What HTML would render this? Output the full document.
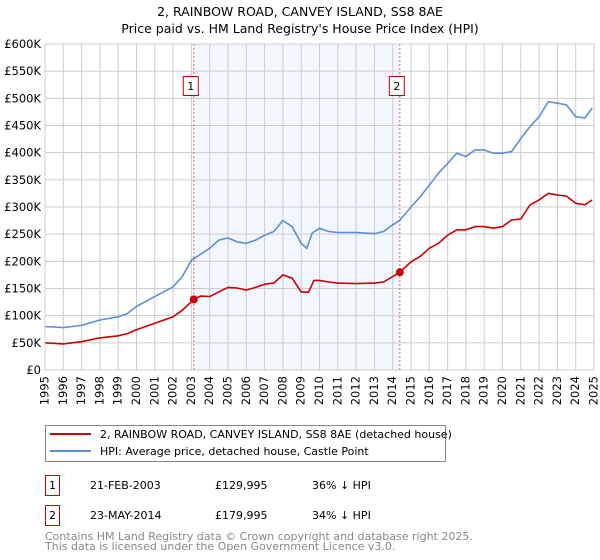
<!DOCTYPE html>
<html><head><meta charset="utf-8">
<style>
body{margin:0;background:#fff;width:600px;height:560px;overflow:hidden;font-family:"DejaVu Sans","Liberation Sans",sans-serif;position:relative;}
svg text{font-family:"DejaVu Sans","Liberation Sans",sans-serif;}
.xl{position:absolute;height:36px;width:13px;line-height:13px;font-size:11.5px;writing-mode:vertical-rl;writing-mode:sideways-lr;text-align:end;white-space:nowrap;color:#000;}
</style></head>
<body>
<svg id="chart" width="600" height="560" xmlns="http://www.w3.org/2000/svg" style="position:absolute;left:0;top:0">
<text x="300" y="16" text-anchor="middle" font-size="12.5" fill="#000">2, RAINBOW ROAD, CANVEY ISLAND, SS8 8AE</text>
<text x="300" y="33" text-anchor="middle" font-size="12.5" fill="#000">Price paid vs. HM Land Registry's House Price Index (HPI)</text>
<g id="plot"></g>
<g>
<rect x="45.5" y="425.5" width="400" height="36" fill="#fff" stroke="#888"/>
<line x1="50" y1="434" x2="91" y2="434" stroke="#cc0000" stroke-width="2"/>
<text x="100" y="438" font-size="11">2, RAINBOW ROAD, CANVEY ISLAND, SS8 8AE (detached house)</text>
<line x1="50" y1="451" x2="91" y2="451" stroke="#5b8fd4" stroke-width="2"/>
<text x="100" y="455" font-size="11">HPI: Average price, detached house, Castle Point</text>
</g>
<g>
<rect x="45.5" y="475.5" width="14" height="20" fill="#fff" stroke="#cc0000"/>
<text x="52.5" y="489" text-anchor="middle" font-size="11">1</text>
<text x="90" y="489" font-size="11">21-FEB-2003</text>
<text x="215" y="489" font-size="11">£129,995</text>
<text x="312" y="489" font-size="11">36% ↓ HPI</text>
<rect x="45.5" y="505.5" width="14" height="20" fill="#fff" stroke="#cc0000"/>
<text x="52.5" y="519" text-anchor="middle" font-size="11">2</text>
<text x="90" y="519" font-size="11">23-MAY-2014</text>
<text x="215" y="519" font-size="11">£179,995</text>
<text x="312" y="519" font-size="11">34% ↓ HPI</text>
</g>
<text x="45" y="540" font-size="11" fill="#888">Contains HM Land Registry data © Crown copyright and database right 2025.</text>
<text x="45" y="550" font-size="11" fill="#888">This data is licensed under the Open Government Licence v3.0.</text>
</svg>
<div id="xlabels"></div>
<script>
const hpiYears=[1995,1996,1997,1998,1999,1999.5,2000,2001,2002,2002.5,2003,2003.5,2004,2004.5,2005,2005.5,2006,2006.5,2007,2007.5,2008,2008.5,2009,2009.3,2009.6,2010,2010.5,2011,2012,2013,2013.5,2014,2014.4,2015,2015.5,2016,2016.5,2017,2017.5,2018,2018.5,2019,2019.5,2020,2020.5,2021,2021.5,2022,2022.5,2023,2023.5,2024,2024.5,2024.9];
const hpiValues=[80,78,82,92,98,104,117,135,153,172,202,213,224,239,243,236,233,239,248,255,275,264,233,224,252,261,255,253,253,251,255,267,276,300,319,340,362,380,399,393,405,405,399,399,402,426,448,466,494,491,488,466,464,482];
const priceYears=[1995,1996,1997,1998,1999,1999.5,2000,2001,2002,2002.5,2003.13,2003.5,2004,2004.5,2005,2005.5,2006,2006.5,2007,2007.5,2008,2008.5,2009,2009.4,2009.7,2010,2010.5,2011,2012,2013,2013.5,2014.39,2015,2015.5,2016,2016.5,2017,2017.5,2018,2018.5,2019,2019.5,2020,2020.5,2021,2021.5,2022,2022.5,2023,2023.5,2024,2024.5,2024.9];
const priceValues=[50,48,52,59,63,67,74,86,98,110,130,136,135,144,152,151,147,152,158,160,175,169,144,143,165,165,162,160,159,160,162,180,199,209,224,233,248,258,258,264,264,261,264,276,278,304,313,325,322,320,307,304,313];
const saleYears=[2003.13,2014.39];
const saleValues=[129.995,179.995];
const saleLabels=["1","2"];
const yTicks=[0,50,100,150,200,250,300,350,400,450,500,550,600];
const yTickLabels=["£0","£50K","£100K","£150K","£200K","£250K","£300K","£350K","£400K","£450K","£500K","£550K","£600K"];
const xTicks=[1995,1996,1997,1998,1999,2000,2001,2002,2003,2004,2005,2006,2007,2008,2009,2010,2011,2012,2013,2014,2015,2016,2017,2018,2019,2020,2021,2022,2023,2024,2025];

const X0=45,X1=594,Y0=370,Y1=44;
const xs=y=>X0+(y-1995)/(2025-1995)*(X1-X0);
const ys=v=>Y0-v/600*(Y0-Y1);
const NS="http://www.w3.org/2000/svg";
const g=document.getElementById('plot');
const xl=document.getElementById('xlabels');
function mk(t,a){const e=document.createElementNS(NS,t);for(const k in a)e.setAttribute(k,a[k]);g.appendChild(e);return e;}

const shade=mk('rect',{x:xs(saleYears[0]),y:Y1,width:xs(saleYears[1])-xs(saleYears[0]),height:Y0-Y1,fill:'#f2f6fe'});


yTicks.forEach((v,i)=>{
  const l=mk('line',{x1:X0,x2:X1,y1:ys(v),y2:ys(v),stroke:'#ccc','stroke-width':1});
  
  
  const t=mk('text',{x:X0-4,y:ys(v)+4,'text-anchor':'end','font-size':'11.5',fill:'#000'});
  t.textContent=yTickLabels[i];
  
  
});
xTicks.forEach(yr=>{
  const l=mk('line',{x1:xs(yr),x2:xs(yr),y1:Y1,y2:Y0,stroke:'#ccc','stroke-width':1});
  
  
  const d=document.createElement('div');
  d.className='xl';
  d.style.left=(xs(yr)-6.5)+'px';
  d.style.top='376px';
  d.textContent=yr;
  
  
  xl.appendChild(d);
});
function path(xsA,vs){return xsA.map((x,i)=>(i?'L':'M')+xs(x).toFixed(1)+','+ys(vs[i]).toFixed(1)).join('');}
const hp=mk('path',{d:path(hpiYears,hpiValues),fill:'none',stroke:'#5b8fd4','stroke-width':1.6});


const pp=mk('path',{d:path(priceYears,priceValues),fill:'none',stroke:'#cc0000','stroke-width':1.6});


saleYears.forEach((yr,i)=>{
  const l=mk('line',{x1:xs(yr),x2:xs(yr),y1:Y1,y2:Y0,stroke:'#e06060','stroke-width':1,'stroke-dasharray':'2,2'});
  
  
  const c=mk('circle',{cx:xs(yr),cy:ys(saleValues[i]),r:4,fill:'#cc0000'});
  
  
  const r=mk('rect',{x:xs(yr)-10.5,y:76.5,width:15,height:19,fill:'#fff',stroke:'#cc0000'});
  
  
  const t=mk('text',{x:xs(yr)-3,y:90,'text-anchor':'middle','font-size':'11',fill:'#000'});
  t.textContent=saleLabels[i];
  
  
});
const ax=mk('rect',{x:X0,y:Y1,width:X1-X0,height:Y0-Y1,fill:'none',stroke:'#ccc'});


</script>
</body></html>
